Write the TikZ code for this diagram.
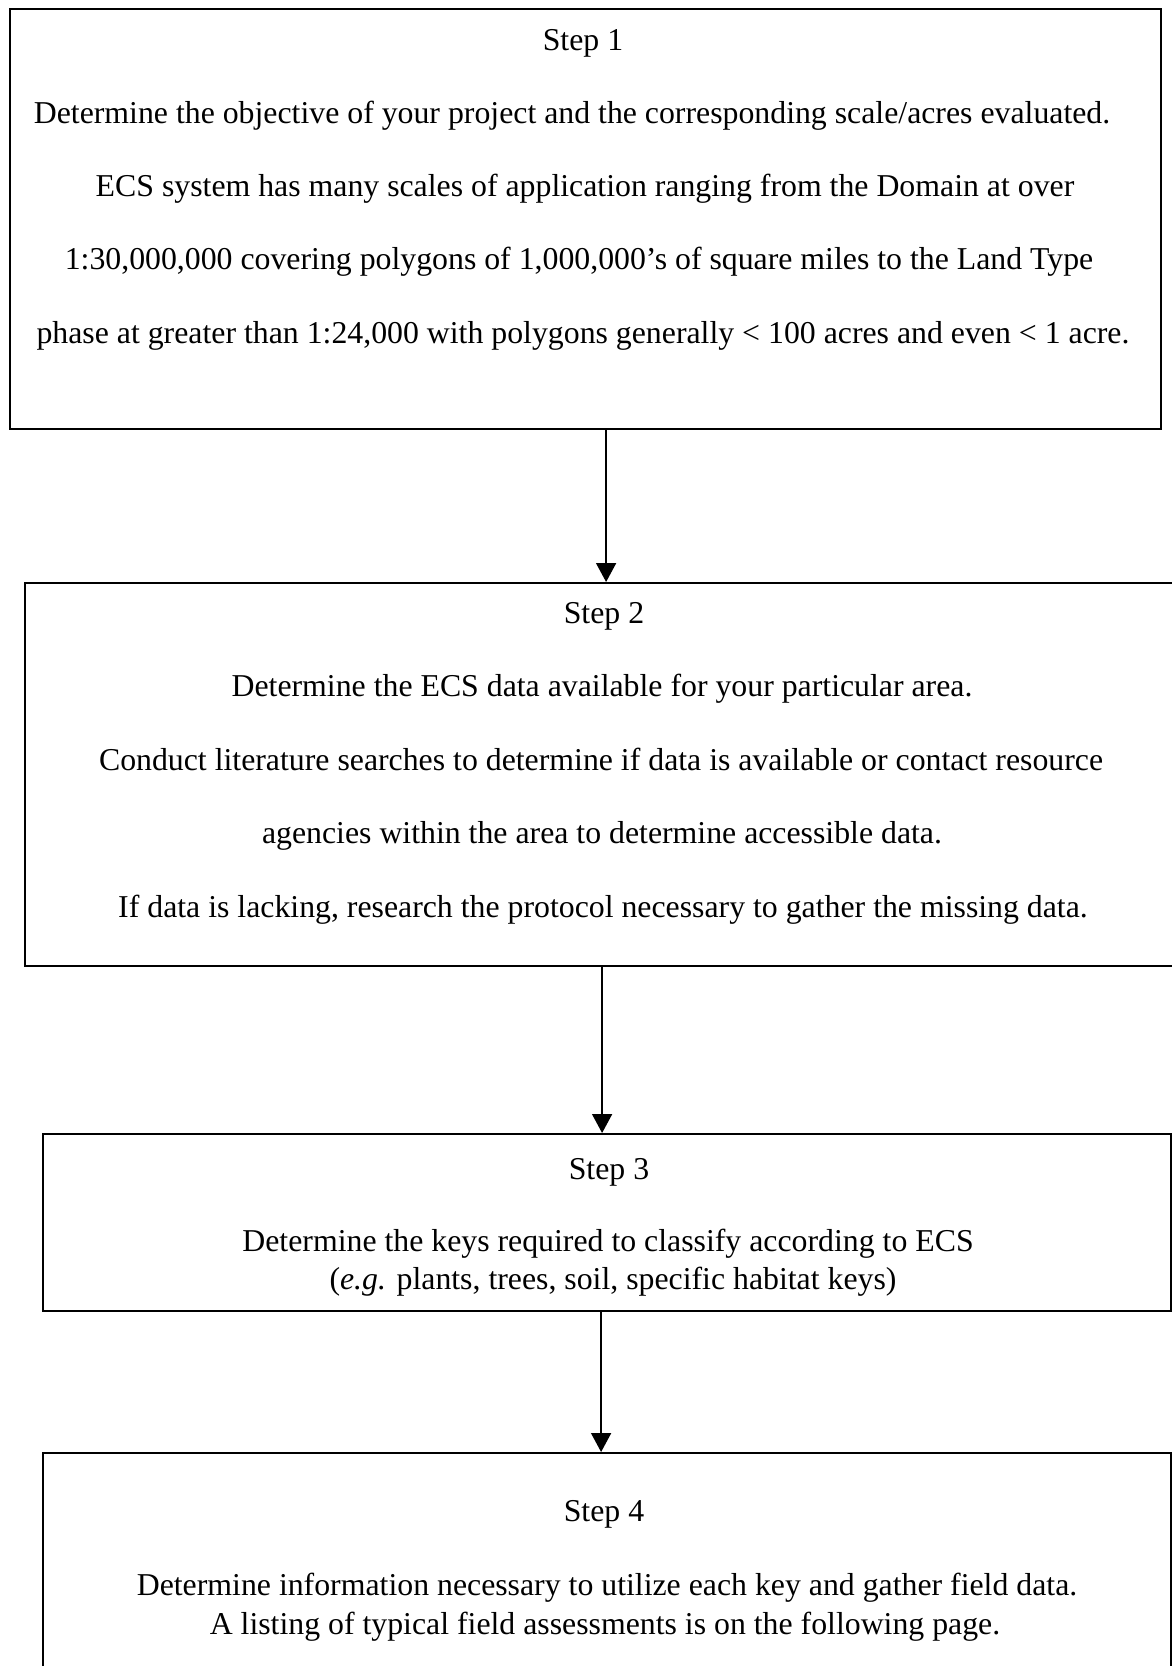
\documentclass[tikz,border=0pt]{standalone}
\usepackage{fontspec}
\setmainfont{Liberation Serif}
\usetikzlibrary{arrows.meta}
\tikzset{
  stepbox/.style={draw, line width=2.2pt, inner sep=0pt, anchor=north west},
  txt/.style={font=\fontsize{31.8}{34}\selectfont, inner sep=0pt, anchor=base},
  arr/.style={line width=1.8pt, -{Triangle[length=19pt, width=20pt]}}
}
\begin{document}
\begin{tikzpicture}[x=1pt, y=-1pt]
    \useasboundingbox (0,0) rectangle (1172,1666);
    % Boxes
    \node[stepbox, minimum width=1151pt, minimum height=420pt] (s1) at (9,8) {};
    \node[stepbox, minimum width=1152pt, minimum height=383pt] (s2) at (24,582) {};
    \node[stepbox, minimum width=1128pt, minimum height=177pt] (s3) at (42,1133) {};
    \node[stepbox, minimum width=1128pt, minimum height=240pt] (s4) at (42,1452) {};
    % Step 1
    \node[txt] (t1) at (583,50) {Step 1};
    \node[txt] (t1a) at (572,123) {Determine the objective of your project and the corresponding scale/acres evaluated.};
    \node[txt] (t1b) at (585,196) {ECS system has many scales of application ranging from the Domain at over};
    \node[txt] (t1c) at (579,269) {1:30,000,000 covering polygons of 1,000,000's of square miles to the Land Type};
    \node[txt] (t1d) at (583,343) {phase at greater than 1:24,000 with polygons generally < 100 acres and even < 1 acre.};
    % Step 2
    \node[txt] (t2) at (604,623) {Step 2};
    \node[txt] (t2a) at (602,696) {Determine the ECS data available for your particular area.};
    \node[txt] (t2b) at (601,770) {Conduct literature searches to determine if data is available or contact resource};
    \node[txt] (t2c) at (602,843) {agencies within the area to determine accessible data.};
    \node[txt] (t2d) at (603,917) {If data is lacking, research the protocol necessary to gather the missing data.};
    % Step 3
    \node[txt] (t3) at (609,1179) {Step 3};
    \node[txt] (t3a) at (608,1251) {Determine the keys required to classify according to ECS};
    \node[txt] (t3b) at (613,1289) {(\textit{e.g.} plants, trees, soil, specific habitat keys)};
    % Step 4
    \node[txt] (t4) at (604,1521) {Step 4};
    \node[txt] (t4a) at (607,1595) {Determine information necessary to utilize each key and gather field data.};
    \node[txt] (t4b) at (605,1634) {A listing of typical field assessments is on the following page.};
    % Arrows
    \draw[arr] ([xshift=20.5pt]s1.south) -- ([xshift=5pt]s2.north);
    \draw[arr] ([xshift=1pt]s2.south) -- ([xshift=-5pt]s3.north);
    \draw[arr] ([xshift=-6pt]s3.south) -- ([xshift=-6pt]s4.north);
\end{tikzpicture}
\end{document}
